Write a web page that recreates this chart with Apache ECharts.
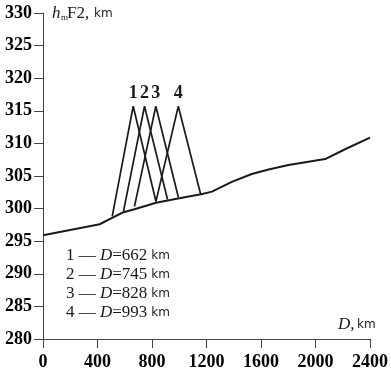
<!DOCTYPE html>
<html>
<head>
<meta charset="utf-8">
<script src="https://cdn.jsdelivr.net/npm/echarts@6/dist/echarts.min.js"></script>
<style>
  html, body { margin: 0; padding: 0; background: #fff; }
  #chart { width: 391px; height: 377px; }
</style>
</head>
<body>
<div id="chart"></div>
<script>
// baseline hmF2 vs distance
var baseD = [0, 416, 500, 585, 671, 830, 1000, 1160, 1240, 1386, 1532, 1656, 1802, 2071, 2217, 2400];
var baseH = [295.9, 297.6, 298.5, 299.4, 299.9, 300.9, 301.6, 302.2, 302.6, 304.1, 305.3, 306.0, 306.7, 307.6, 309.1, 310.9];

// triangles (peaks at the marked distances)
var peakNames = ['1', '2', '3', '4'];
var peakD = [662, 745, 828, 993];
var peakH = [315.7, 315.7, 315.7, 315.7];
var footLD = [508, 591, 671, 829];
var footLH = [298.8, 299.6, 300.3, 301.1];
var footRD = [829, 914, 994, 1157];
var footRH = [301.1, 301.4, 301.7, 302.2];

var yTicks = { min: 280, max: 330, step: 5 };
var xTicks = { min: 0, max: 2400, step: 400 };

function DrawChart() {
    var chart = echarts.init(document.getElementById('chart'));
    var ink = '#1a1a1a';
    var serif = 'Liberation Serif';

    var series = [{
        type: 'line',
        data: baseD.map(function (d, i) { return [d, baseH[i]]; }),
        symbol: 'none',
        lineStyle: { color: ink, width: 2 },
        z: 3
    }];
    peakD.forEach(function (d, i) {
        series.push({
            type: 'line',
            data: [
                [footLD[i], footLH[i]],
                {
                    value: [d, peakH[i]],
                    symbol: 'circle',
                    symbolSize: 1,
                    itemStyle: { color: 'rgba(0,0,0,0)' },
                    label: { show: true }
                },
                [footRD[i], footRH[i]]
            ],
            symbol: 'none',
            showSymbol: true,
            lineStyle: { color: ink, width: 1.7 },
            label: {
                show: false,
                position: 'top',
                distance: 3,
                formatter: peakNames[i],
                fontFamily: serif,
                fontWeight: 'bold',
                fontSize: 18,
                color: ink
            }
        });
    });

    // legend block: 1 — D=662 km ...
    var legendTexts = peakD.map(function (d, i) {
        return {
            type: 'text',
            left: 66,
            top: 247 + i * 19,
            style: {
                text: '{n|' + peakNames[i] + ' — }{d|D}{n|=' + d + '}{k| km}',
                rich: {
                    n: { fontFamily: serif, fontSize: 17, fill: ink },
                    d: { fontFamily: serif, fontSize: 17, fontStyle: 'italic', fill: ink },
                    k: { fontFamily: 'DejaVu Sans', fontSize: 12, fill: ink }
                }
            }
        };
    });

    var option = {
        animation: false,
        backgroundColor: '#fff',
        grid: { left: 43, right: 19, top: 13, bottom: 38 },
        xAxis: {
            type: 'value',
            min: xTicks.min,
            max: xTicks.max,
            interval: xTicks.step,
            axisLine: { lineStyle: { color: '#444', width: 1 } },
            axisTick: { show: true, inside: false, length: 9, lineStyle: { color: '#444' } },
            splitLine: { show: false },
            axisLabel: {
                margin: 14,
                formatter: function (v) { return String(v); },
                fontFamily: serif,
                fontWeight: 700,
                fontSize: 18,
                color: '#000'
            }
        },
        yAxis: {
            type: 'value',
            min: yTicks.min,
            max: yTicks.max,
            interval: yTicks.step,
            axisLine: { show: true, lineStyle: { color: '#444', width: 1 } },
            axisTick: { show: true, inside: false, length: 9, lineStyle: { color: '#444' } },
            splitLine: { show: false },
            axisLabel: {
                margin: 11,
                formatter: function (v) { return String(v); },
                fontFamily: serif,
                fontWeight: 700,
                fontSize: 18,
                color: '#000'
            }
        },
        graphic: [
            // y axis name: hmF2, km
            { type: 'text', left: 52, top: 5, style: { text: 'h', fontFamily: serif, fontStyle: 'italic', fontSize: 17, fill: ink } },
            { type: 'text', left: 61, top: 13, style: { text: 'm', fontFamily: serif, fontSize: 9, fill: ink } },
            { type: 'text', left: 67, top: 5, style: { text: 'F2,', fontFamily: serif, fontSize: 17, fill: ink } },
            { type: 'text', left: 94, top: 8, style: { text: 'km', fontFamily: 'DejaVu Sans', fontSize: 12, fill: ink } },
            // x axis name: D, km
            { type: 'text', left: 338, top: 316, style: { text: 'D,', fontFamily: serif, fontStyle: 'italic', fontSize: 17, fill: ink } },
            { type: 'text', left: 357, top: 319, style: { text: 'km', fontFamily: 'DejaVu Sans', fontSize: 12, fill: ink } }
        ].concat(legendTexts),
        series: series
    };
    chart.setOption(option);
}

DrawChart();
</script>
</body>
</html>
